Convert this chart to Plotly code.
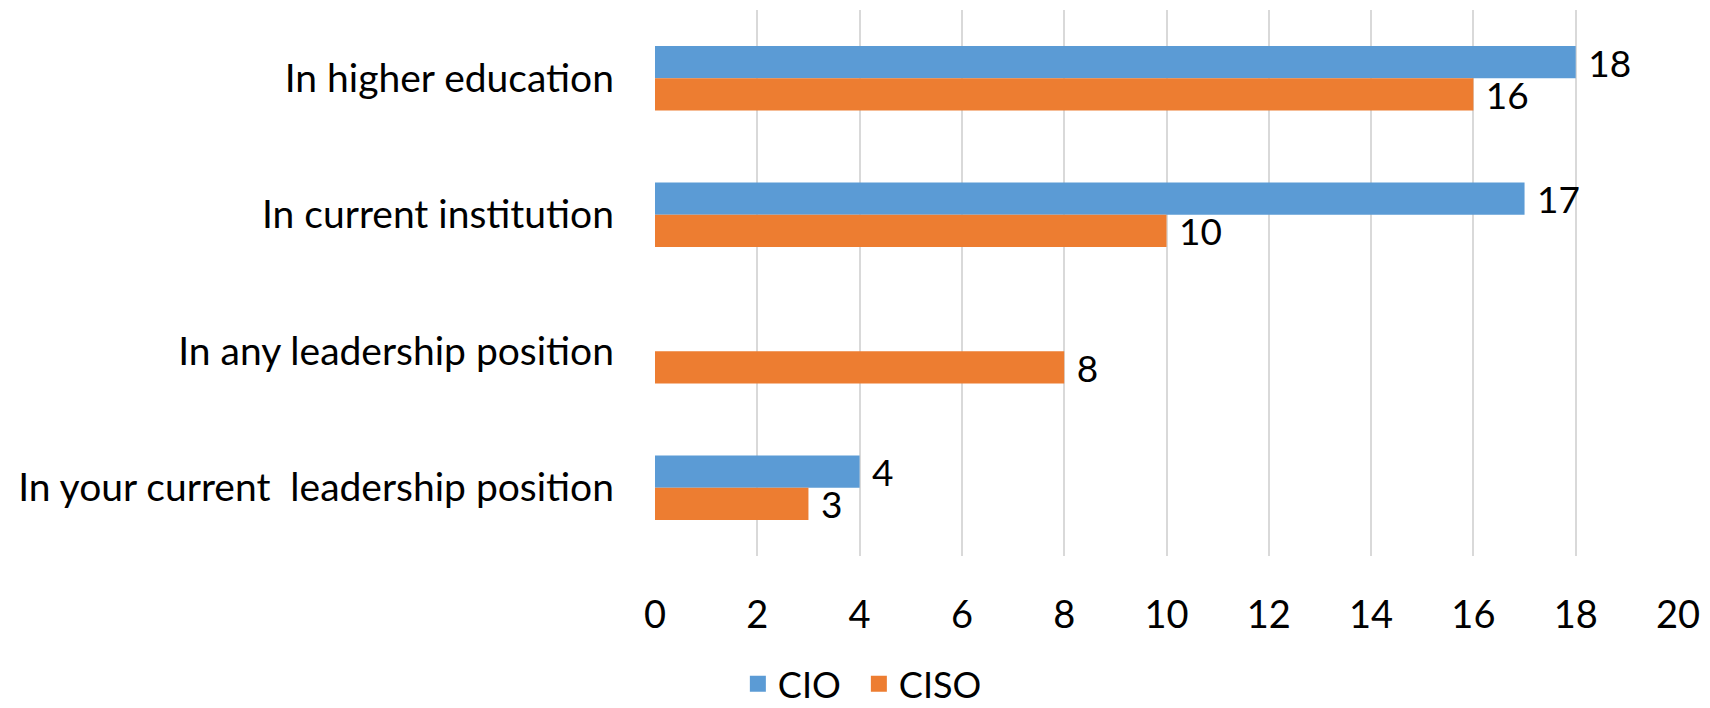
import plotly.graph_objects as go

categories = ["In higher education", "In current institution", "In any leadership position",
              "In your current\u00a0 leadership position"]
cio_values = [18, 17, None, 4]
ciso_values = [16, 10, 8, 3]
x_ticks = [0, 2, 4, 6, 8, 10, 12, 14, 16, 18, 20]
series_names = ["CIO", "CISO"]
series_colors = ["#5B9BD5", "#ED7D31"]

FONT = "Lato"
fig = go.Figure()
for name, vals, color in zip(series_names, [cio_values, ciso_values], series_colors):
    fig.add_trace(go.Bar(
        y=categories, x=vals, orientation="h", name=name, showlegend=False,
        marker=dict(color=color, line=dict(width=0)),
        texttemplate="\u00a0%{x}",
        textposition="outside", cliponaxis=False, constraintext="none",
        textfont=dict(family=FONT, size=37, color="#000000"),
    ))
# legend entries with larger square swatches
for name, color in zip(series_names, series_colors):
    fig.add_trace(go.Scatter(
        x=[None], y=[None], mode="markers", name=name,
        marker=dict(symbol="square", size=22, color=color),
    ))

# page has an 8px body margin, so the figure is 8px smaller and offsets compensate
fig.update_layout(
    width=1702, height=700,
    margin=dict(l=647, r=32, t=2, b=152, autoexpand=False),
    paper_bgcolor="white", plot_bgcolor="white",
    barmode="group", bargap=0.526, bargroupgap=0,
    font=dict(family=FONT, size=36, color="#000000"),
    xaxis=dict(range=[0, 20], tickvals=x_ticks, showgrid=True, gridcolor="#d9d9d9",
               gridwidth=1.5, zeroline=False, showline=False, ticks="",
               ticklabelstandoff=33, tickfont=dict(family=FONT, size=38, color="#000000")),
    yaxis=dict(autorange="reversed", showgrid=False, zeroline=False, showline=False,
               ticks="", ticklabelstandoff=40, tickfont=dict(family=FONT, size=39, color="#000000")),
    legend=dict(orientation="h", x=0.081, xanchor="left", xref="paper", y=-0.234,
                yanchor="middle", font=dict(family=FONT, size=36, color="#000000"),
                itemwidth=30, entrywidth=76, traceorder="normal"),
    showlegend=True,
)
fig.write_html("out.html")
